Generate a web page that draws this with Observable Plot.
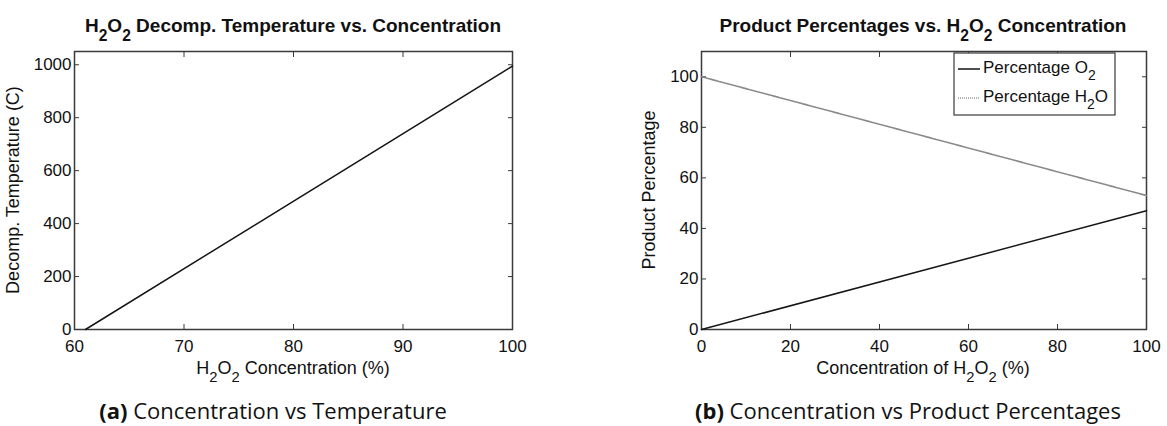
<!DOCTYPE html>
<html>
<head>
<meta charset="utf-8">
<script src="https://cdn.jsdelivr.net/npm/d3@7"></script>
<script src="https://cdn.jsdelivr.net/npm/@observablehq/plot@0.6"></script>
<style>
  body { margin: 0; background: #fff; }
  #fig { position: relative; width: 1167px; height: 426px; overflow: hidden; background: #fff; }
  .panel { position: absolute; top: 0; }
  .caption {
    position: absolute; top: 399px; transform: translateX(-50%);
    font-family: "Open Sans", "Noto Sans", sans-serif; font-size: 22px; line-height: 22px;
    font-variant-ligatures: none; color: #111; white-space: nowrap;
  }
  .caption b { font-weight: 700; }
</style>
</head>
<body>
<div id="fig"></div>
<script>
// Panel (a): decomposition temperature against H2O2 concentration
const concA = [61, 100];
const tempA = [0, 995];
const xTicksA = [60, 70, 80, 90, 100];
const yTicksA = [0, 200, 400, 600, 800, 1000];

// Panel (b): product percentages against H2O2 concentration
const concB = [0, 100];
const o2B = [0, 47];
const h2oB = [100, 53];
const xTicksB = [0, 20, 40, 60, 80, 100];
const yTicksB = [0, 20, 40, 60, 80, 100];

const INK = "#3a3a3a";
const FONT = "'Liberation Sans', Arial, sans-serif";
const H = 395, MT = 51, MB = 66;
const plain = d => String(d);

function boxAxes(xTicks, yTicks) {
  return [
    Plot.axisX({anchor: "bottom", ticks: xTicks, tickSize: -5, tickPadding: 15, tickFormat: plain, label: null, stroke: INK, fill: "#111"}),
    Plot.axisX({anchor: "top", ticks: xTicks, tickSize: -5, tickFormat: () => "", label: null, stroke: INK}),
    Plot.axisY({anchor: "left", ticks: yTicks, tickSize: -5, tickPadding: 8, tickFormat: plain, label: null, stroke: INK, fill: "#111"}),
    Plot.axisY({anchor: "right", ticks: yTicks, tickSize: -5, tickFormat: () => "", label: null, stroke: INK}),
    Plot.frame({stroke: INK, strokeWidth: 1.5})
  ];
}

// text with "_2" style subscripts
function rich(sel, str, attrs, sub = 8) {
  const t = sel.append("text");
  Object.entries(attrs).forEach(([k, v]) => t.attr(k, v));
  let shifted = 0;
  str.split(/(_\d)/).filter(Boolean).forEach(p => {
    const ts = t.append("tspan");
    if (p.startsWith("_")) {
      ts.attr("dy", sub - shifted).attr("font-size", "0.82em").text(p.slice(1));
      shifted = sub;
    } else {
      ts.attr("dy", -shifted).text(p);
      shifted = 0;
    }
  });
  return t;
}

const style = {fontFamily: FONT, fontSize: "17px", color: "#111", background: "transparent", overflow: "visible"};

const tableA = concA.map((c, i) => ({c, t: tempA[i]}));
const plotA = Plot.plot({
  width: 580, height: H, marginTop: MT, marginBottom: MB, marginLeft: 74, marginRight: 68,
  style,
  x: {domain: [60, 100]},
  y: {domain: [0, 1050]},
  marks: [
    ...boxAxes(xTicksA, yTicksA),
    Plot.line(tableA, {x: "c", y: "t", stroke: "#151515", strokeWidth: 1.5})
  ]
});

const tableB = concB.flatMap((c, i) => [
  {c, v: o2B[i], s: "O2"},
  {c, v: h2oB[i], s: "H2O"}
]);
const plotB = Plot.plot({
  width: 587, height: H, marginTop: MT, marginBottom: MB, marginLeft: 121, marginRight: 21,
  style,
  x: {domain: [0, 100]},
  y: {domain: [0, 110]},
  marks: [
    ...boxAxes(xTicksB, yTicksB),
    Plot.line(tableB.filter(d => d.s === "O2"), {x: "c", y: "v", stroke: "#151515", strokeWidth: 1.5}),
    Plot.line(tableB.filter(d => d.s === "H2O"), {x: "c", y: "v", stroke: "#8a8a8a", strokeWidth: 1.6, strokeDasharray: "1 1"})
  ]
});

const fig = document.getElementById("fig");
for (const [p, left] of [[plotA, 0], [plotB, 580]]) {
  p.classList.add("panel");
  p.style.left = left + "px";
  fig.appendChild(p);
}

// titles and axis labels
const sA = d3.select(plotA), sB = d3.select(plotB);
const titleAttrs = {"font-family": FONT, "font-size": 19, "font-weight": "bold", "text-anchor": "middle", fill: "#111"};
const labelAttrs = {"font-family": FONT, "font-size": 18, "text-anchor": "middle", fill: "#111"};

rich(sA, "H_2O_2 Decomp. Temperature vs. Concentration", {...titleAttrs, x: 293, y: 32}, 9);
rich(sA, "H_2O_2 Concentration (%)", {...labelAttrs, x: 293, y: 374});
rich(sA, "Decomp. Temperature (C)", {...labelAttrs, transform: "translate(19,190) rotate(-90)", dy: "0.35em"});

rich(sB, "Product Percentages vs. H_2O_2 Concentration", {...titleAttrs, x: 343, y: 32}, 9);
rich(sB, "Concentration of H_2O_2 (%)", {...labelAttrs, x: 343, y: 374});
rich(sB, "Product Percentage", {...labelAttrs, transform: "translate(75,190) rotate(-90)", dy: "0.35em"});

// legend box for panel (b)
const lg = sB.append("g").attr("text-anchor", "start");
lg.append("rect").attr("x", 374).attr("y", 53).attr("width", 161).attr("height", 62)
  .attr("fill", "#fff").attr("stroke", INK).attr("stroke-width", 1.2);
const legendItems = [
  {label: "Percentage O_2", stroke: "#151515", dash: null, width: 1.5},
  {label: "Percentage H_2O", stroke: "#9a9a9a", dash: "1 1", width: 1.6}
];
legendItems.forEach((d, i) => {
  const y = 69 + i * 29;
  lg.append("line").attr("x1", 378).attr("x2", 400).attr("y1", y).attr("y2", y)
    .attr("stroke", d.stroke).attr("stroke-width", d.width).attr("stroke-dasharray", d.dash);
  rich(lg, d.label, {"font-family": FONT, "font-size": 17, "text-anchor": "start", fill: "#111", x: 403, y: y + 4}, 7);
});

// captions
const caps = [["(a)", "Concentration vs Temperature", 273], ["(b)", "Concentration vs Product Percentages", 908]];
for (const [tag, text, cx] of caps) {
  const d = document.createElement("div");
  d.className = "caption";
  d.style.left = cx + "px";
  d.innerHTML = `<b>${tag}</b> ${text}`;
  fig.appendChild(d);
}
</script>
</body>
</html>
